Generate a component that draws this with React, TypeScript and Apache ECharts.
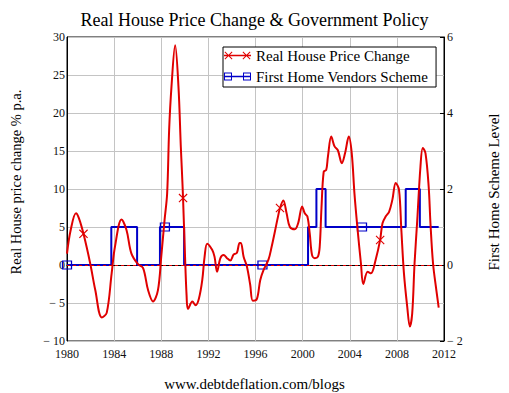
import React, { useEffect, useRef } from 'react';
import * as echarts from 'echarts';

const TITLE = 'Real House Price Change & Government Policy';
const FOOTER = 'www.debtdeflation.com/blogs';
const PRICE_NAME = 'Real House Price Change';
const SCHEME_NAME = 'First Home Vendors Scheme';
const Y_LEFT_NAME = 'Real House price change % p.a.';
const Y_RIGHT_NAME = 'First Home Scheme Level';

// Real house price change, % p.a. (year, value)
const priceYears = [
  1980.0, 1980.3, 1980.76, 1981.0, 1981.4, 1981.97, 1982.4, 1982.95, 1983.37, 1983.79,
  1984.07, 1984.63, 1985.05, 1985.47, 1986.03, 1986.46, 1986.88, 1987.3, 1987.72, 1988.0,
  1988.28, 1988.5, 1988.67, 1988.87, 1989.18, 1989.46, 1989.66, 1989.75, 1989.85, 1990.0,
  1990.15, 1990.27, 1990.64, 1990.92, 1991.2, 1991.48, 1991.68, 1991.9, 1992.32, 1992.52,
  1992.74, 1993.02, 1993.3, 1993.58, 1993.86, 1994.15, 1994.42, 1994.65, 1994.76, 1994.99,
  1995.27, 1995.55, 1995.77, 1996.11, 1996.4, 1996.67, 1997.1, 1997.37, 1997.66, 1997.9,
  1998.08, 1998.36, 1998.64, 1998.92, 1999.34, 1999.62, 1999.96, 2000.18, 2000.4, 2000.6,
  2000.8, 2001.03, 2001.3, 2001.45, 2001.6, 2001.79, 2002.0, 2002.15, 2002.43, 2002.71,
  2002.99, 2003.33, 2003.6, 2003.92, 2004.17, 2004.4, 2004.67, 2004.95, 2005.15, 2005.52,
  2005.8, 2006.2, 2006.58, 2006.78, 2007.06, 2007.34, 2007.62, 2007.9, 2008.18, 2008.38,
  2008.6, 2008.88, 2009.1, 2009.3, 2009.5, 2009.73, 2010.0, 2010.2, 2010.43, 2010.7,
  2010.85, 2011.07, 2011.35, 2011.55,
];
const priceValues = [
  1.5, 4.5, 6.8, 6.2, 4.1, 0.2, -3.3, -6.9, -6.3, -1.1,
  2.4, 6.0, 4.6, 1.5, 0.1, -0.4, -3.3, -4.8, -3.3, 1.1,
  5.9, 9.4, 17.8, 23.5, 28.9, 23.5, 15.6, 12.5, 8.8, 2.0,
  -4.0, -5.8, -4.8, -5.3, -4.4, -2.0, 1.1, 2.8, 2.0, 1.1,
  -0.9, 0.9, 1.3, 0.9, 0.6, 1.4, 1.6, 2.9, 2.9, 1.1,
  -0.2, -2.6, -4.7, -4.5, -2.0, -0.7, 0.7, 2.4, 4.5, 6.3,
  7.5, 8.5, 6.8, 5.0, 4.7, 5.5, 7.7, 6.8, 6.4, 4.2,
  1.3, 0.9, 1.1, 2.4, 7.5, 12.3, 12.5, 14.3, 16.9, 15.6,
  15.1, 13.4, 14.7, 16.9, 14.7, 9.4, 4.6, 0.2, -2.5, -0.9,
  -1.1, 0.7, 3.3, 5.5, 6.4, 7.0, 8.6, 10.8, 9.9, 4.6,
  -1.1, -5.5, -8.1, -6.4, 0.2, 5.9, 12.9, 15.4, 14.7, 10.3,
  5.5, 0.2, -3.3, -5.6,
];
const priceMarkerYears = [1981.4, 1989.85, 1998.08, 2006.58];

// First Home Vendors Scheme level (level holds from each year to the next)
const schemeYears = [
  1980, 1983.76, 1985.95, 1987.89, 1988.31, 1989.94, 1996.59, 2000.46,
  2001.17, 2001.95, 2005.04, 2008.75, 2009.95, 2011.55,
];
const schemeLevels = [0, 1, 0, 1, 1, 0, 0, 1, 2, 1, 1, 2, 1, 1];
const schemeMarkerYears = [1980, 1988.31, 1996.59, 2005.04];

const RED = '#e00000';
const BLUE = '#0000c8';
const FONT = 'Liberation Serif';

// X marker (8x8) made of two filled bars
const X_PATH = 'path://M0,0.7L0.7,0L8,7.3L7.3,8ZM7.3,0L8,0.7L0.7,8L0,7.3Z';
// legend icons: 27x8 boxes
const xBars = (cx: number) =>
  `M${cx - 4},0.7L${cx - 3.3},0L${cx + 4},7.3L${cx + 3.3},8Z` +
  `M${cx + 3.3},0L${cx + 4},0.7L${cx - 3.3},8L${cx - 4},7.3Z`;
const RED_ICON = 'path://M0,3.3L27,3.3L27,4.7L0,4.7Z' + xBars(4.5) + xBars(22.5);
const sq = (cx: number) =>
  `M${cx - 4},0L${cx + 4},0L${cx + 4},8L${cx - 4},8Z` +
  `M${cx - 3},1L${cx - 3},7L${cx + 3},7L${cx + 3},1Z`;
const BLUE_ICON = 'path://M0,3.2L27,3.2L27,4.8L0,4.8Z' + sq(4) + sq(23);

const numFmt = (v: number) => (v < 0 ? '\u2212 ' + Math.abs(v) : String(v));

export default function App() {
  const ref = useRef<HTMLDivElement>(null);
  useEffect(() => {
    if (!ref.current) return;
    const chart = echarts.init(ref.current, undefined, { renderer: 'svg' });

    const priceData = priceYears.map((x, i) =>
      priceMarkerYears.includes(x)
        ? { value: [x, priceValues[i]] }
        : { value: [x, priceValues[i]], symbol: 'none' }
    );
    const schemeData = schemeYears.map((x, i) =>
      schemeMarkerYears.includes(x)
        ? { value: [x, schemeLevels[i]] }
        : { value: [x, schemeLevels[i]], symbol: 'none' }
    );

    const gridLine = { show: true, lineStyle: { color: '#c4c4c4', width: 1 } };
    const labelStyle = { fontFamily: FONT, fontSize: 12, lineHeight: 12, color: '#111' };

    chart.setOption({
      animation: false,
      backgroundColor: '#fff',
      textStyle: { fontFamily: FONT },
      title: {
        text: TITLE,
        left: 'center',
        top: 6,
        textStyle: { fontFamily: FONT, fontSize: 18, fontWeight: 'normal', color: '#000' },
      },
      legend: {
        left: 223,
        top: 47,
        orient: 'vertical',
        backgroundColor: '#fff',
        borderColor: '#000',
        borderWidth: 1,
        borderRadius: 0,
        padding: [1, 8, 3, 1],
        itemGap: 6,
        itemWidth: 27,
        itemHeight: 8,
        textStyle: { fontFamily: FONT, fontSize: 15, color: '#000' },
        data: [
          { name: PRICE_NAME, icon: RED_ICON, itemStyle: { color: RED, borderWidth: 0 } },
          { name: SCHEME_NAME, icon: BLUE_ICON, itemStyle: { color: BLUE, borderWidth: 0 } },
        ],
      },
      grid: {
        left: 67,
        right: 62,
        top: 37,
        bottom: 52,
        show: true,
        borderColor: '#000',
        borderWidth: 1,
      },
      xAxis: {
        type: 'value',
        min: 1980,
        max: 2012,
        interval: 4,
        axisLine: { show: true, lineStyle: { color: '#000' } },
        axisTick: { show: false },
        axisLabel: { ...labelStyle, margin: 7, formatter: (v: number) => String(v) },
        splitLine: gridLine,
      },
      yAxis: [
        {
          type: 'value',
          min: -10,
          max: 30,
          interval: 5,
          name: Y_LEFT_NAME,
          nameLocation: 'middle',
          nameRotate: 90,
          nameGap: 44,
          nameTextStyle: { fontFamily: FONT, fontSize: 14.5, color: '#000', padding: [0, 0, 0, 14] },
          axisLine: { show: true, lineStyle: { color: '#000' } },
          axisTick: { show: false },
          axisLabel: { ...labelStyle, margin: 2, formatter: numFmt },
          splitLine: gridLine,
        },
        {
          type: 'value',
          min: -2,
          max: 6,
          interval: 2,
          position: 'right',
          name: Y_RIGHT_NAME,
          nameLocation: 'middle',
          nameRotate: 90,
          nameGap: 42,
          nameTextStyle: { fontFamily: FONT, fontSize: 15, color: '#000', padding: [0, 6, 0, 0] },
          axisLine: { show: true, lineStyle: { color: '#000' } },
          axisTick: { show: true, inside: true, length: 4, lineStyle: { color: '#000' } },
          axisLabel: { ...labelStyle, margin: 3, formatter: numFmt },
          splitLine: { show: false },
        },
      ],
      series: [
        {
          name: PRICE_NAME,
          type: 'line',
          xAxisIndex: 0,
          yAxisIndex: 0,
          z: 3,
          smooth: 0.35,
          color: RED,
          symbol: X_PATH,
          symbolSize: 9,
          itemStyle: { color: RED, borderWidth: 0 },
          lineStyle: { color: RED, width: 2 },
          data: priceData,
          markLine: {
            silent: true,
            symbol: ['none', 'none'],
            label: { show: false },
            lineStyle: { color: RED, width: 1, type: [3, 3] },
            data: [{ yAxis: 0 }],
          },
        },
        {
          name: SCHEME_NAME,
          type: 'line',
          xAxisIndex: 0,
          yAxisIndex: 1,
          z: 2,
          step: 'end',
          color: BLUE,
          symbol: 'rect',
          symbolSize: [9, 8],
          itemStyle: { color: 'rgba(0,0,0,0)', borderColor: BLUE, borderWidth: 1.2 },
          lineStyle: { color: BLUE, width: 2 },
          data: schemeData,
        },
      ],
      graphic: [
        {
          type: 'text',
          left: 'center',
          top: 376,
          style: { text: FOOTER, font: `15px ${FONT}`, fill: '#000' },
        },
      ],
    });
    return () => chart.dispose();
  }, []);
  return (
    <div
      ref={ref}
      style={{ position: 'absolute', left: 0, top: 0, width: 509, height: 393 }}
    />
  );
}
